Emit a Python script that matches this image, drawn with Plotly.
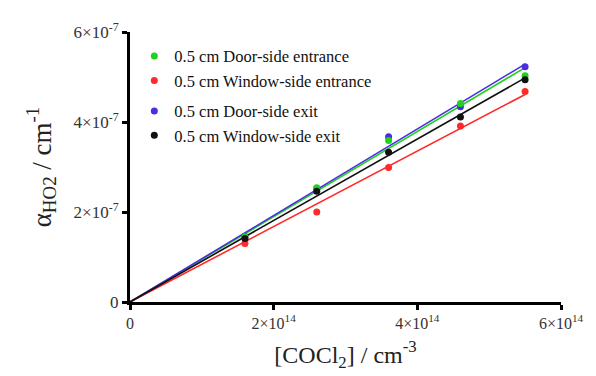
import numpy as np
import plotly.graph_objects as go

# ---- data ----
conc = [1.6e14, 2.6e14, 3.6e14, 4.6e14, 5.5e14]          # [COCl2] / cm^-3
door_entrance = [1.45e-7, 2.54e-7, 3.59e-7, 4.41e-7, 5.03e-7]
window_entrance = [1.30e-7, 2.00e-7, 2.99e-7, 3.91e-7, 4.68e-7]
door_exit = [1.46e-7, 2.52e-7, 3.67e-7, 4.34e-7, 5.23e-7]
window_exit = [1.41e-7, 2.46e-7, 3.33e-7, 4.11e-7, 4.94e-7]

series_names = [
    "0.5 cm Door-side entrance",
    "0.5 cm Window-side entrance",
    "0.5 cm Door-side exit",
    "0.5 cm Window-side exit",
]
series_values = [door_entrance, window_entrance, door_exit, window_exit]
colors = ["#1ed21e", "#ff2a2a", "#4b2ee0", "#111111"]
legend_groups = ["a", "a", "b", "b"]

# axis units (plot in multiples of these to avoid float-precision issues)
X_UNIT = 1e14
Y_UNIT = 1e-7
x_ticks = [0, 2e14, 4e14, 6e14]
x_ticktext = ["0", "2×10<sup>14</sup>", "4×10<sup>14</sup>", "6×10<sup>14</sup>"]
y_ticks = [0, 2e-7, 4e-7, 6e-7]
y_ticktext = ["0", "2×10<sup>-7</sup>", "4×10<sup>-7</sup>", "6×10<sup>-7</sup>"]

FONT = "Liberation Serif, DejaVu Serif, serif"

fig = go.Figure()

xs = np.array(conc) / X_UNIT
# least-squares fits through the origin
for vals, col in zip(series_values, colors):
    ys = np.array(vals) / Y_UNIT
    slope = float(np.sum(xs * ys) / np.sum(xs * xs))
    xline = np.array([0.0, xs.max()])
    fig.add_trace(go.Scatter(x=xline, y=slope * xline, mode="lines",
                             line=dict(color=col, width=1.6),
                             showlegend=False, hoverinfo="skip"))

# points (draw order: blue, green, red, black)
draw_order = [2, 0, 1, 3]
for i in draw_order:
    fig.add_trace(go.Scatter(x=xs, y=np.array(series_values[i]) / Y_UNIT,
                             mode="markers", name=series_names[i],
                             marker=dict(color=colors[i], size=7),
                             legendgroup=legend_groups[i],
                             legendrank=i + 1))

fig.update_layout(
    width=588, height=368,
    margin=dict(l=122, r=26, t=17, b=71),
    paper_bgcolor="white", plot_bgcolor="white",
    font=dict(family=FONT, color="#222222", size=17),
    legend=dict(x=0.01, y=0.975, xanchor="left", yanchor="top",
                font=dict(size=16.5, family=FONT, color="#111111"),
                bgcolor="rgba(0,0,0,0)", tracegroupgap=6,
                traceorder="grouped"),
    showlegend=True,
)

fig.update_xaxes(range=[0, 6], tickvals=[v / X_UNIT for v in x_ticks],
                 ticktext=x_ticktext,
                 showgrid=False, zeroline=False, showline=True,
                 linecolor="black", linewidth=3, ticks="outside",
                 ticklen=5, tickwidth=3, tickcolor="black",
                 tickfont=dict(size=16, family=FONT, color="#333333"),
                 title=dict(text="[COCl<sub>2</sub>] / cm<sup>-3</sup>",
                            font=dict(size=24, family=FONT, color="#222222")))
fig.update_yaxes(range=[0, 6], tickvals=[v / Y_UNIT for v in y_ticks],
                 ticktext=y_ticktext,
                 showgrid=False, zeroline=False, showline=True,
                 linecolor="black", linewidth=3, ticks="outside",
                 ticklen=5, tickwidth=3, tickcolor="black",
                 tickfont=dict(size=17, family=FONT, color="#333333"),
                 title=dict(text="α<sub>HO2</sub> / cm<sup>-1</sup>",
                            font=dict(size=27, family=FONT, color="#222222")))

fig.write_html("out.html")
